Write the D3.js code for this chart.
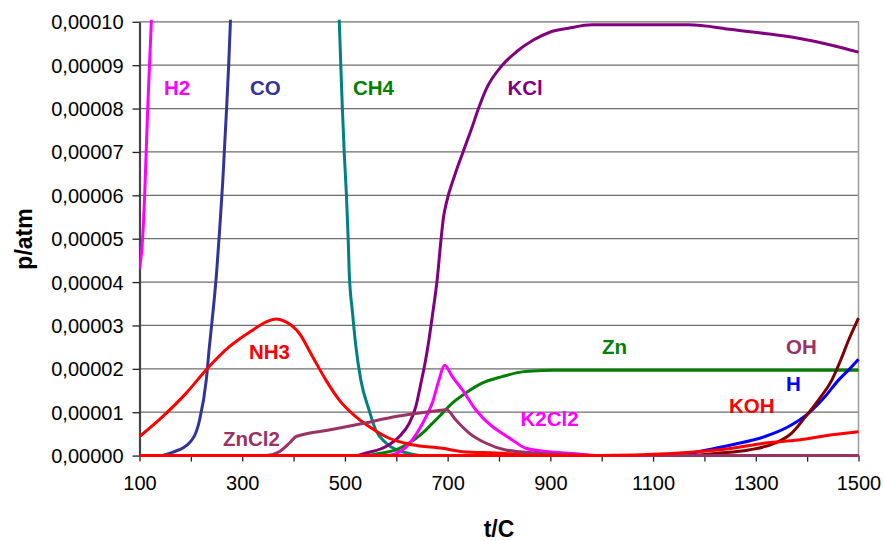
<!DOCTYPE html>
<html>
<head>
<meta charset="utf-8">
<script src="https://cdn.jsdelivr.net/npm/d3@7"></script>
<style>
  body { margin: 0; background: #fff; }
  svg { font-family: "Liberation Sans", Arial, sans-serif; }
  .tick text { font-size: 20px; fill: #000; }
  .lbl { font-size: 20.5px; font-weight: bold; }
  .title { font-size: 23px; font-weight: bold; }
</style>
</head>
<body>
<script>
var w = 884;
var h = 541;
var UNIT = 1e-5; // series values below are in 1e-5 atm

// [t/C, p in 1e-5 atm]
var h2 = [[100, 4.3], [106, 5.0], [110, 6.0], [113, 7.0], [116, 8.0], [119.5, 9.0], [123, 10], [128, 11.5]];
var co = [[100, 0], [139, 0], [165, 0.08], [197, 0.29], [217, 0.82], [230, 1.74], [236, 2.5], [243, 3.3],
          [250, 4.2], [256, 5.2], [262, 6.3], [266, 7.2], [270, 8.1], [274, 9.1], [277, 10], [283, 11.5]];
var ch4 = [[485, 11.5], [489, 10], [492, 8.98], [495, 8.01], [498.6, 6.99], [503, 5.98], [506.4, 4.97], [508.3, 4.24],
           [514.8, 3.29], [521.4, 2.51], [531, 1.74], [547, 1.05], [560, 0.59], [580, 0.29], [600, 0.13],
           [625, 0.05], [650, 0], [1500, 0]];
var kcl = [[100, 0], [521, 0], [541, 0.06], [580, 0.21], [606, 0.44], [625, 0.74], [638, 1.13], [648, 1.67],
           [657, 2.2], [664, 2.7], [670, 3.2], [680, 4.1], [687, 4.97], [692, 5.5], [698, 5.85], [714, 6.47],
           [730, 7.0], [747, 7.55], [760, 8.0], [776, 8.47], [805, 8.98], [834, 9.31], [867, 9.58], [899, 9.76],
           [935, 9.85], [981, 9.93], [1169, 9.93], [1254, 9.82], [1318, 9.73], [1383, 9.62], [1448, 9.46], [1500, 9.3]];
var zn = [[100, 0], [541, 0], [567, 0.05], [599, 0.13], [625, 0.29], [651, 0.52], [670, 0.74], [690, 0.98],
          [709, 1.21], [735, 1.44], [767, 1.67], [806, 1.82], [845, 1.93], [884, 1.96], [907, 1.97], [1500, 1.97]];
var k2cl2 = [[100, 0], [580, 0], [612, 0.13], [631, 0.36], [651, 0.74], [670, 1.21], [683, 1.74], [694, 2.08],
             [709, 1.82], [729, 1.51], [755, 1.05], [787, 0.67], [800, 0.56], [826, 0.36], [852, 0.17],
             [897, 0.09], [942, 0.05], [994, 0], [1500, 0]];
var nh3 = [[100, 0.44], [145, 0.9], [191, 1.44], [230, 1.98], [275, 2.51], [320, 2.89], [350, 3.1], [366, 3.15],
           [382, 3.1], [411, 2.82], [437, 2.28], [463, 1.74], [489, 1.28], [521, 0.9], [547, 0.67], [586, 0.4],
           [631, 0.25], [690, 0.17], [729, 0.09], [794, 0.06], [858, 0.02], [994, 0], [1500, 0]];
var hh = [[1150, 0], [1189, 0.09], [1254, 0.25], [1318, 0.44], [1364, 0.67], [1403, 0.98], [1435, 1.36],
          [1461, 1.74], [1480.5, 1.97], [1500, 2.22]];
var oh = [[1180, 0], [1221, 0.05], [1286, 0.13], [1338, 0.29], [1370, 0.52], [1397, 0.9], [1422, 1.28],
          [1448, 1.74], [1468, 2.28], [1481, 2.67], [1500, 3.17]];
var zncl2 = [[100, 0], [346, 0], [372, 0.09], [392, 0.29], [405, 0.44], [469, 0.59], [534, 0.74], [599, 0.9],
             [690, 1.05], [697, 1.06], [716, 0.82], [742, 0.52], [774, 0.29], [813, 0.13], [871, 0.06],
             [942, 0.02], [1014, 0], [1500, 0]];
var koh = [[100, 0], [994, 0], [1137, 0.05], [1254, 0.17], [1318, 0.29], [1383, 0.36], [1448, 0.48], [1500, 0.55]];

// draw order as in the original chart
var seriesData = [h2, co, ch4, kcl, zn, k2cl2, nh3, hh, oh, zncl2, koh];
var seriesColors = ["#ff00ff", "#333399", "#008080", "#800080", "#008000", "#ff00ff", "#ff0000",
                    "#0000ff", "#800000", "#993366", "#ff0000"];

// labels: text, t/C, p (1e-5 atm) of the baseline start
var labelText = ["H2", "CO", "CH4", "KCl", "NH3", "ZnCl2", "K2Cl2", "Zn", "OH", "H", "KOH"];
var labelPos = [[147.7, 8.31], [315.2, 8.31], [515.7, 8.31], [816.6, 8.31], [313.2, 2.23], [262.6, 0.22],
                [841.9, 0.69], [1000.6, 2.34], [1358.8, 2.34], [1358.8, 1.49], [1247.9, 0.99]];
var labelColors = ["#ff00ff", "#333399", "#008000", "#800080", "#ff0000", "#993366", "#ff00ff",
                   "#008000", "#993366", "#0000ff", "#ff0000"];

var xTicks = d3.range(100, 1501, 100);
var xLabels = d3.range(100, 1501, 200);
var yTicks = d3.range(0, 11, 1).map(function(d){ return d * UNIT; });

var svg = d3.select("body")
    .append("svg")
    .attr("width", w)
    .attr("height", h);

var xScale = d3.scaleLinear().domain([100, 1500]).range([139.5, 858.5]);
var yScale = d3.scaleLinear().domain([0, 10 * UNIT]).range([455.6, 21.8]);

svg.append("defs").append("clipPath")
    .attr("id", "plot")
    .append("rect")
    .attr("x", xScale(100))
    .attr("y", yScale(10 * UNIT) - 2)
    .attr("width", xScale(1500) - xScale(100) + 2)
    .attr("height", yScale(0) - yScale(10 * UNIT) + 4);

// gridlines
svg.append("g")
    .selectAll("line")
    .data(yTicks.slice(1))
    .enter()
    .append("line")
    .attr("x1", xScale(100))
    .attr("x2", xScale(1500))
    .attr("y1", function(d){ return yScale(d); })
    .attr("y2", function(d){ return yScale(d); })
    .attr("stroke", "#6e6e6e")
    .attr("stroke-width", 1.2);

// right border
svg.append("line")
    .attr("x1", xScale(1500)).attr("x2", xScale(1500))
    .attr("y1", yScale(10 * UNIT)).attr("y2", yScale(0))
    .attr("stroke", "#9a9a9a")
    .attr("stroke-width", 1.5);

var fmt = function(d){ return d3.format(".5f")(d).replace(".", ","); };

var yAxis = d3.axisLeft(yScale)
    .tickValues(yTicks)
    .tickFormat(fmt)
    .tickSizeInner(7)
    .tickSizeOuter(0)
    .tickPadding(9);

var xAxis = d3.axisBottom(xScale)
    .tickValues(xTicks)
    .tickFormat(function(d){ return xLabels.indexOf(d) >= 0 ? d : ""; })
    .tickSizeInner(6)
    .tickSizeOuter(0)
    .tickPadding(14);

var gx = svg.append("g")
    .attr("transform", "translate(0," + yScale(0) + ")")
    .call(xAxis);
gx.select(".domain").attr("stroke", "#444").attr("stroke-width", 2);
gx.selectAll(".tick line").attr("stroke", "#222").attr("stroke-width", 1.3);

var gy = svg.append("g")
    .attr("transform", "translate(" + xScale(100) + ",0)")
    .call(yAxis);
gy.select(".domain").attr("stroke", "#444").attr("stroke-width", 2.2);
gy.selectAll(".tick line").attr("stroke", "#222").attr("stroke-width", 1.3);
gy.selectAll(".tick text").attr("dy", "0.35em");

// series
var line = d3.line()
    .x(function(d){ return xScale(d[0]); })
    .y(function(d){ return yScale(d[1] * UNIT); })
    .curve(d3.curveMonotoneX);

svg.append("g")
    .attr("clip-path", "url(#plot)")
    .selectAll("path")
    .data(seriesData)
    .enter()
    .append("path")
    .attr("d", line)
    .attr("fill", "none")
    .attr("stroke", function(d, i){ return seriesColors[i]; })
    .attr("stroke-width", 3)
    .attr("stroke-linejoin", "round");

// series labels
svg.append("g")
    .selectAll("text")
    .data(labelText)
    .enter()
    .append("text")
    .attr("class", "lbl")
    .attr("x", function(d, i){ return xScale(labelPos[i][0]); })
    .attr("y", function(d, i){ return yScale(labelPos[i][1] * UNIT); })
    .attr("fill", function(d, i){ return labelColors[i]; })
    .text(function(d){ return d; });

// axis titles
svg.append("text")
    .attr("class", "title")
    .attr("x", 499)
    .attr("y", 537)
    .attr("text-anchor", "middle")
    .text("t/C");

svg.append("text")
    .attr("class", "title")
    .attr("transform", "translate(32,239) rotate(-90)")
    .attr("text-anchor", "middle")
    .text("p/atm");
</script>
</body>
</html>
